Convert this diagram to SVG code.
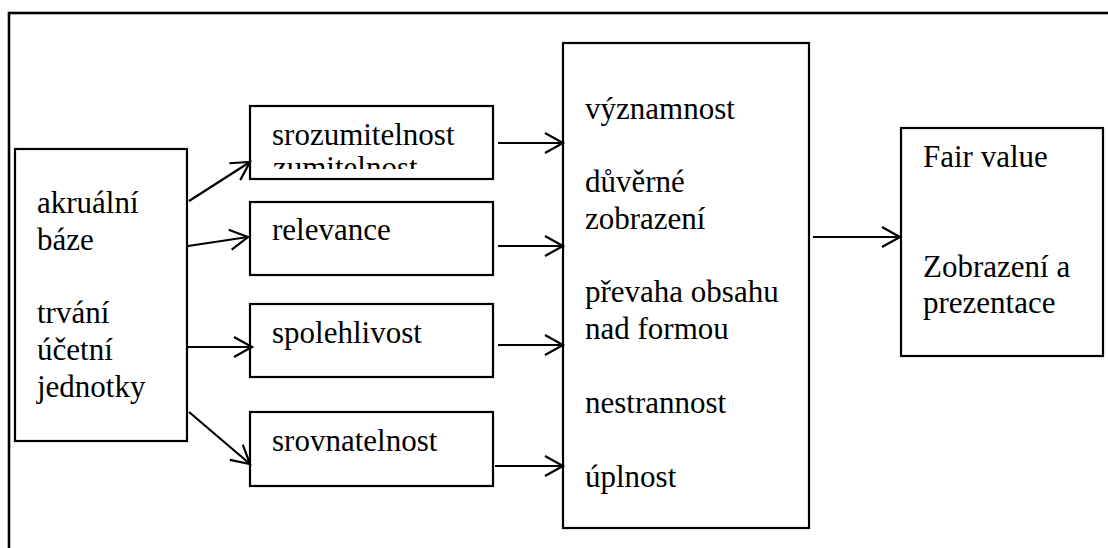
<svg xmlns="http://www.w3.org/2000/svg" width="1108" height="548" viewBox="0 0 1108 548">
<style>
.box{fill:#fff;stroke:#000;stroke-width:2.2}
.c{stroke:#000;stroke-width:2.2;fill:none}
text{font-family:Liberation Serif, Times New Roman, Times, serif;font-size:31px;fill:#000}
</style>
<defs>
<marker id="ah" markerUnits="userSpaceOnUse" markerWidth="22" markerHeight="24" refX="18" refY="11" orient="auto" overflow="visible">
<path d="M0,1 L18,11 L0,21" fill="none" stroke="#000" stroke-width="2.2"/>
</marker>
<clipPath id="clipS"><rect x="250" y="107" width="243" height="62"/></clipPath>
</defs>
<rect x="9" y="13" width="1120" height="570" fill="#fff" stroke="#000" stroke-width="2.6"/>
<g id="n-left">
<rect class="box" x="15" y="149" width="172" height="292"/>
<text x="37" y="213">akruální</text>
<text x="37" y="250">báze</text>
<text x="37" y="323">trvání</text>
<text x="37" y="360">účetní</text>
<text x="37" y="397">jednotky</text>
</g>
<g id="n-srozumitelnost">
<rect class="box" x="250" y="106" width="243" height="73"/>
<g clip-path="url(#clipS)">
<text x="272" y="145">srozumitelnost</text>
<text x="273" y="178">zumitelnost</text>
</g>
</g>
<g id="n-relevance">
<rect class="box" x="250" y="202" width="243" height="73"/>
<text x="272" y="240">relevance</text>
</g>
<g id="n-spolehlivost">
<rect class="box" x="250" y="304" width="243" height="73"/>
<text x="272" y="343">spolehlivost</text>
</g>
<g id="n-srovnatelnost">
<rect class="box" x="250" y="412" width="243" height="74"/>
<text x="272" y="451">srovnatelnost</text>
</g>
<g id="n-middle">
<rect class="box" x="563" y="43" width="246" height="485"/>
<text x="585" y="119">významnost</text>
<text x="585" y="192">důvěrné</text>
<text x="585" y="229">zobrazení</text>
<text x="585" y="302">převaha obsahu</text>
<text x="585" y="339">nad formou</text>
<text x="585" y="413">nestrannost</text>
<text x="585" y="487">úplnost</text>
</g>
<g id="n-right">
<rect class="box" x="901" y="128" width="202" height="228"/>
<text x="923" y="167">Fair value</text>
<text x="923" y="277">Zobrazení a</text>
<text x="923" y="313">prezentace</text>
</g>
<g id="connectors">
<line class="c" x1="189" y1="201" x2="250" y2="162" marker-end="url(#ah)"/>
<line class="c" x1="188" y1="246" x2="248" y2="237" marker-end="url(#ah)"/>
<line class="c" x1="188" y1="347" x2="252" y2="347" marker-end="url(#ah)"/>
<line class="c" x1="189" y1="412" x2="250" y2="464" marker-end="url(#ah)"/>
<line class="c" x1="498" y1="143" x2="563" y2="143" marker-end="url(#ah)"/>
<line class="c" x1="498" y1="246" x2="563" y2="246" marker-end="url(#ah)"/>
<line class="c" x1="498" y1="345" x2="563" y2="345" marker-end="url(#ah)"/>
<line class="c" x1="495" y1="466" x2="563" y2="466" marker-end="url(#ah)"/>
<line class="c" x1="813" y1="237" x2="900" y2="237" marker-end="url(#ah)"/>
</g>
</svg>
